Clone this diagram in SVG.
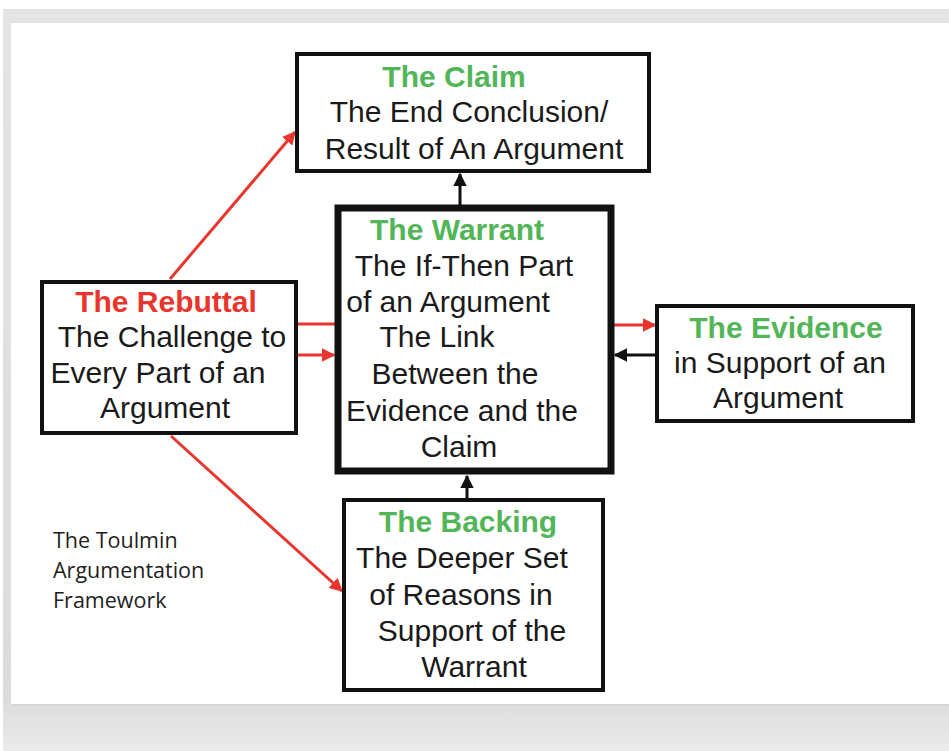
<svg xmlns="http://www.w3.org/2000/svg" width="949" height="751" viewBox="0 0 949 751">
  <defs>
    <style>
      .box { fill: #ffffff; stroke: #111111; stroke-width: 4; }
      .box-heavy { fill: #ffffff; stroke: #111111; stroke-width: 7; }
      .txt { font-family: "Liberation Sans", Arial, sans-serif; font-size: 30px; fill: #1a1a1a; text-anchor: middle; }
      .head { font-weight: bold; }
      .green { fill: #52b557; }
      .red { fill: #e8352d; }
      .link-red { stroke: #e8352d; stroke-width: 3; fill: none; }
      .link-black { stroke: #111111; stroke-width: 3; fill: none; }
      .note { font-family: "Open Sans", "Liberation Sans", sans-serif; font-size: 21.5px; font-weight: 500; fill: #1e1e1e; }
    </style>
    <marker id="head-red" viewBox="0 0 10 10" refX="9" refY="5" markerWidth="4.5" markerHeight="4.5" orient="auto" markerUnits="strokeWidth">
      <path d="M0,0 L10,5 L0,10 z" fill="#e8352d"/>
    </marker>
    <marker id="head-black" viewBox="0 0 10 10" refX="9" refY="5" markerWidth="4.5" markerHeight="4.5" orient="auto" markerUnits="strokeWidth">
      <path d="M0,0 L10,5 L0,10 z" fill="#111111"/>
    </marker>
    <linearGradient id="panel" x1="0" y1="0" x2="0" y2="1">
      <stop offset="0" stop-color="#e4e4e4"/>
      <stop offset="0.93" stop-color="#dcdcdc"/>
      <stop offset="1" stop-color="#ebebeb"/>
    </linearGradient>
  </defs>

  <!-- page backdrop and card -->
  <rect x="0" y="0" width="949" height="751" fill="#ffffff"/>
  <rect x="3" y="9" width="946" height="742" fill="url(#panel)"/>
  <rect x="12" y="24" width="937" height="682" fill="#d6d6d6"/>
  <rect x="11" y="23" width="938" height="681" fill="#ffffff"/>

  <!-- connectors -->
  <g id="connectors">
    <line class="link-red" x1="170" y1="279" x2="295" y2="132" marker-end="url(#head-red)"/>
    <line class="link-red" x1="171" y1="436" x2="342" y2="591" marker-end="url(#head-red)"/>
    <line class="link-red" x1="298" y1="324" x2="335" y2="324"/>
    <line class="link-red" x1="298" y1="355" x2="334" y2="355" marker-end="url(#head-red)"/>
    <line class="link-red" x1="614" y1="325" x2="655" y2="325" marker-end="url(#head-red)"/>
    <line class="link-black" x1="656" y1="355" x2="615" y2="355" marker-end="url(#head-black)"/>
    <line class="link-black" x1="460" y1="205" x2="460" y2="174" marker-end="url(#head-black)"/>
    <line class="link-black" x1="467" y1="498" x2="467" y2="476" marker-end="url(#head-black)"/>
  </g>

  <g id="claim">
    <rect class="box" x="297" y="54" width="352" height="117"/>
    <text class="txt head green" x="454" y="87">The Claim</text>
    <text class="txt" x="469" y="122">The End Conclusion/</text>
    <text class="txt" x="474" y="159">Result of An Argument</text>
  </g>

  <g id="warrant">
    <rect class="box-heavy" x="338" y="208" width="273" height="263"/>
    <text class="txt head green" x="457" y="240">The Warrant</text>
    <text class="txt" x="464" y="276">The If-Then Part</text>
    <text class="txt" x="448" y="312">of an Argument</text>
    <text class="txt" x="437" y="347">The Link</text>
    <text class="txt" x="455" y="384">Between the</text>
    <text class="txt" x="462" y="421">Evidence and the</text>
    <text class="txt" x="459" y="457">Claim</text>
  </g>

  <g id="rebuttal">
    <rect class="box" x="42" y="282" width="254" height="151"/>
    <text class="txt head red" x="166" y="312">The Rebuttal</text>
    <text class="txt" x="172" y="347">The Challenge to</text>
    <text class="txt" x="158" y="383">Every Part of an</text>
    <text class="txt" x="165" y="418">Argument</text>
  </g>

  <g id="evidence">
    <rect class="box" x="657" y="306" width="256" height="115"/>
    <text class="txt head green" x="786" y="338">The Evidence</text>
    <text class="txt" x="780" y="373">in Support of an</text>
    <text class="txt" x="778" y="408">Argument</text>
  </g>

  <g id="backing">
    <rect class="box" x="344" y="500" width="259" height="190"/>
    <text class="txt head green" x="468" y="532">The Backing</text>
    <text class="txt" x="462" y="568">The Deeper Set</text>
    <text class="txt" x="461" y="605">of Reasons in</text>
    <text class="txt" x="472" y="641">Support of the</text>
    <text class="txt" x="474" y="677">Warrant</text>
  </g>

  <g id="caption">
    <text class="note" x="53" y="548">The Toulmin</text>
    <text class="note" x="53" y="578">Argumentation</text>
    <text class="note" x="53" y="608">Framework</text>
  </g>
</svg>
